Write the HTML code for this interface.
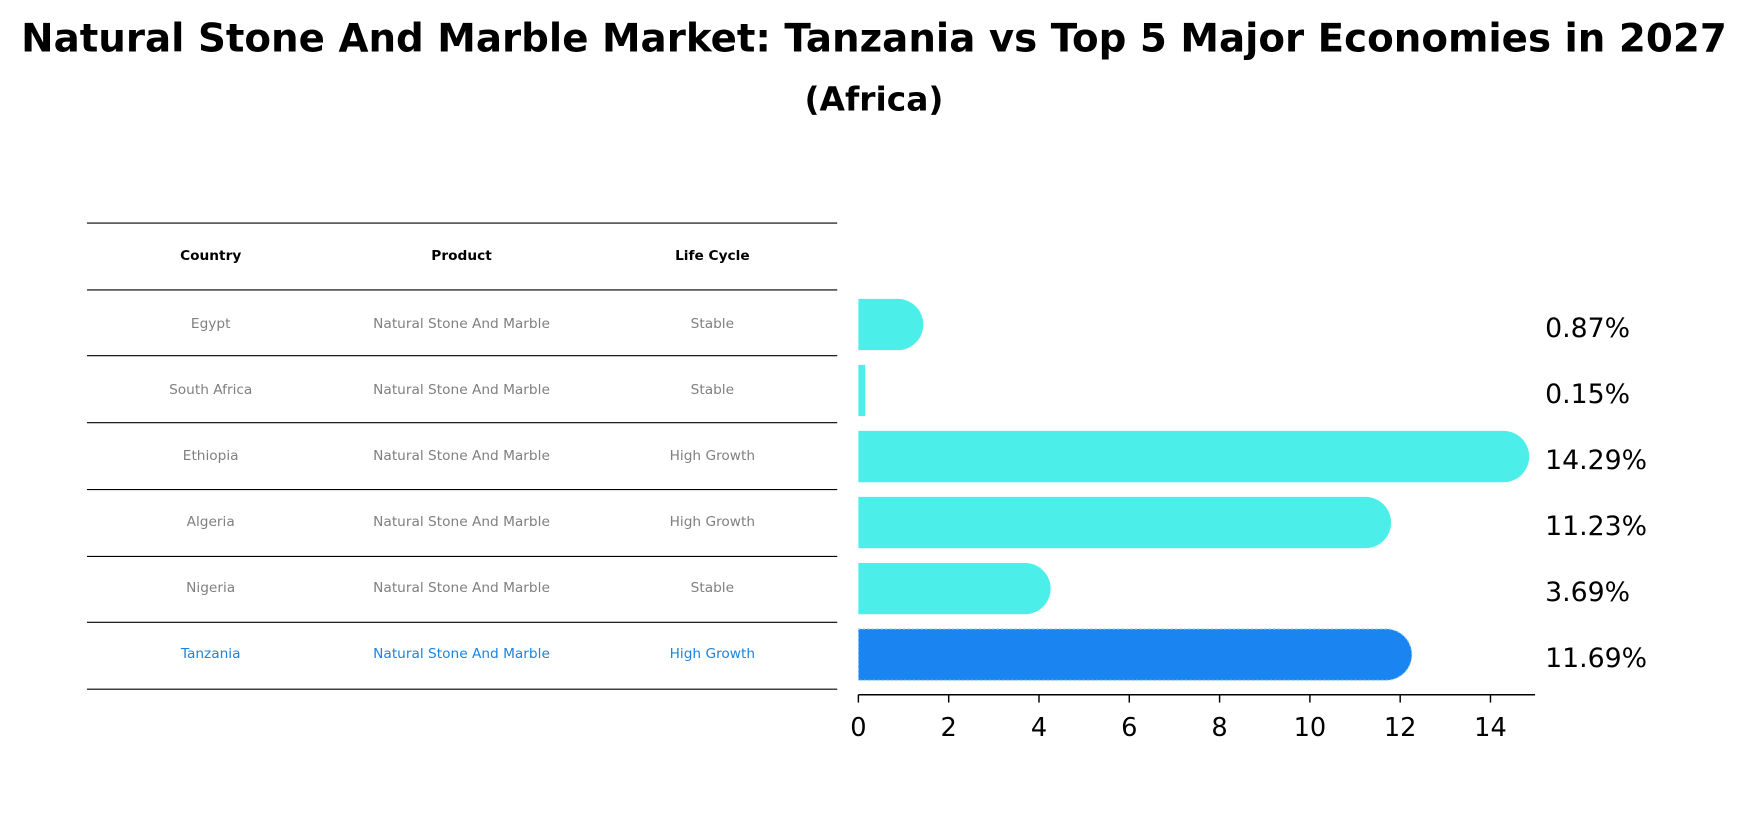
<!DOCTYPE html>
<html><head><meta charset="utf-8"><style>
body{margin:0;background:#fff;font-family:"Liberation Sans","DejaVu Sans",sans-serif;}
</style></head><body>
<svg width="1748" height="823" viewBox="0 0 1568 738" preserveAspectRatio="none" xmlns="http://www.w3.org/2000/svg" style="display:block;font-family:'DejaVu Sans','Liberation Sans',sans-serif">
<text x="784" y="46" text-anchor="middle" font-size="35" font-weight="bold" textLength="1530" lengthAdjust="spacingAndGlyphs">Natural Stone And Marble Market: Tanzania vs Top 5 Major Economies in 2027</text>
<text x="784" y="99" text-anchor="middle" font-size="29.5" font-weight="bold">(Africa)</text>
<g id="table"></g>
<g id="bars"></g>
</svg>
<script>
const countries=["Egypt","South Africa","Ethiopia","Algeria","Nigeria","Tanzania"];
const products=["Natural Stone And Marble","Natural Stone And Marble","Natural Stone And Marble","Natural Stone And Marble","Natural Stone And Marble","Natural Stone And Marble"];
const lifeCycles=["Stable","Stable","High Growth","High Growth","Stable","High Growth"];
const values=[0.87,0.15,14.29,11.23,3.69,11.69];
const tickLabels=[0,2,4,6,8,10,12,14];
const NS="http://www.w3.org/2000/svg";
function mk(t,a,p){const e=document.createElementNS(NS,t);for(const k in a)e.setAttribute(k,a[k]);p.appendChild(e);return e;}
const tbl=document.getElementById('table'), bg=document.getElementById('bars');
const x=v=>770+v*40.5;
const rowY=i=>290+i*59.2;
const lineYs=[200,260,319,379,439,499,558,618];
lineYs.forEach(y=>{const l=mk('line',{x1:78,x2:751,y1:y,y2:y,stroke:'#000','stroke-width':1},tbl);

});
const colX=[189,414,639];
["Country","Product","Life Cycle"].forEach((h,j)=>{const t=mk('text',{x:colX[j],y:233,'text-anchor':'middle','font-size':12.3,'font-weight':'bold'},tbl);t.textContent=h;

});
countries.forEach((c,i)=>{const col=i===5?'#1a84e0':'#808080';
[c,products[i],lifeCycles[i]].forEach((s,j)=>{const t=mk('text',{x:colX[j],y:rowY(i)+4,'text-anchor':'middle','font-size':12.3,fill:col},tbl);t.textContent=s;

});
const h=46,r=23,y0=rowY(i)-h/2+1,w=x(values[i])-x(0);
const fill=i===5?'#1a84f0':'#4beee9';
let d;
if(w>r){d=`M770 ${y0} H${770+w} A${r} ${r} 0 0 1 ${770+w} ${y0+h} H770 Z`;}
else d=`M770 ${y0} H${770+w} V${y0+h} H770 Z`;
const p=mk('path',{d,fill},bg);
if(i===5){p.setAttribute('stroke','#9fd0ff');p.setAttribute('stroke-dasharray','2 2');p.setAttribute('stroke-width','1');}


const lt=mk('text',{x:1386,y:rowY(i)+12,'font-size':24},bg);lt.textContent=values[i].toFixed(2)+'%';


});
const ax=mk('line',{x1:770,x2:1377,y1:623,y2:623,stroke:'#000','stroke-width':1.3},bg);


tickLabels.forEach(v=>{const tk=mk('line',{x1:x(v),x2:x(v),y1:623,y2:630,stroke:'#000','stroke-width':1.3},bg);


const t=mk('text',{x:x(v),y:660,'text-anchor':'middle','font-size':23},bg);t.textContent=v;

});
</script>
</body></html>
